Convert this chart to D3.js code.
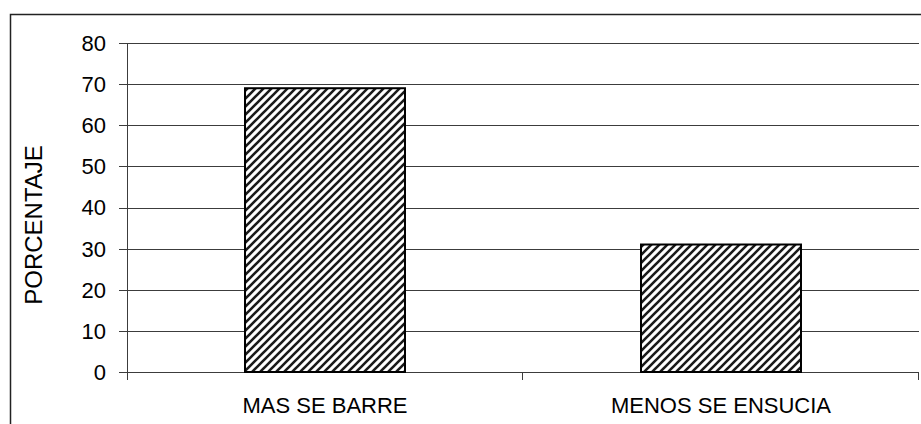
<!DOCTYPE html>
<body style="margin:0">
<svg width="921" height="424" font-family="'Liberation Sans', Arial, sans-serif"></svg>
</body>
<script src="https://d3js.org/d3.v7.min.js"></script>
<script>

var categories = ["MAS SE BARRE", "MENOS SE ENSUCIA"];
var values = [69, 31];
var yTicks = [0, 10, 20, 30, 40, 50, 60, 70, 80];
var yTitle = "PORCENTAJE";

var svg = d3.select("svg"),
    width = +svg.attr("width"),
    height = +svg.attr("height");

var margin = {left: 127, right: 2, top: 43, bottom: 52};

var x = d3.scaleBand()
    .domain(categories)
    .range([margin.left, width - margin.right]);

var y = d3.scaleLinear()
    .domain([0, 80])
    .range([height - margin.bottom, margin.top]);

// hatch fill
var defs = svg.append("defs");
var pat = defs.append("pattern")
    .attr("id", "hatch")
    .attr("patternUnits", "userSpaceOnUse")
    .attr("width", 8)
    .attr("height", 8);
pat.append("rect").attr("width", 8).attr("height", 8).attr("fill", "#fff");
pat.append("path")
    .attr("d", "M-2,2 L2,-2 M0,8 L8,0 M6,10 L10,6")
    .attr("stroke", "#1a1a1a")
    .attr("stroke-width", 2.6);

// outer frame
svg.append("rect")
    .attr("x", 10.5).attr("y", 14.5)
    .attr("width", width + 20).attr("height", height + 20)
    .attr("fill", "none")
    .attr("stroke", "#222")
    .attr("stroke-width", 1.5);

// grid lines
svg.append("g")
    .selectAll("line")
    .data(yTicks)
    .join("line")
    .attr("x1", margin.left - 8)
    .attr("x2", width - margin.right)
    .attr("y1", function(d) { return Math.round(y(d)) + 0.5; })
    .attr("y2", function(d) { return Math.round(y(d)) + 0.5; })
    .attr("stroke", "#3c3c3c");

// y axis line
svg.append("line")
    .attr("x1", margin.left + 0.5).attr("x2", margin.left + 0.5)
    .attr("y1", y(80)).attr("y2", y(0) + 8)
    .attr("stroke", "#3c3c3c");

// category tick marks
var bounds = categories.map(function(c) { return x(c) + x.bandwidth(); });
svg.append("g")
    .selectAll("line")
    .data(bounds)
    .join("line")
    .attr("x1", function(d) { return Math.round(d) - 0.5; })
    .attr("x2", function(d) { return Math.round(d) - 0.5; })
    .attr("y1", y(0))
    .attr("y2", y(0) + 8)
    .attr("stroke", "#3c3c3c");

// y tick labels
svg.append("g")
    .selectAll("text")
    .data(yTicks)
    .join("text")
    .attr("x", margin.left - 21)
    .attr("y", function(d) { return y(d); })
    .attr("dy", "0.36em")
    .attr("text-anchor", "end")
    .attr("font-size", 22)
    .text(function(d) { return d; });

// bars
var barW = x.bandwidth() * 0.404;
svg.append("g")
    .selectAll("rect")
    .data(values)
    .join("rect")
    .attr("x", function(d, i) { return x(categories[i]) + (x.bandwidth() - barW) / 2; })
    .attr("y", function(d) { return y(d); })
    .attr("width", barW)
    .attr("height", function(d) { return y(0) - y(d); })
    .attr("fill", "url(#hatch)")
    .attr("stroke", "#000")
    .attr("stroke-width", 2);

// category labels
svg.append("g")
    .selectAll("text")
    .data(categories)
    .join("text")
    .attr("x", function(d) { return x(d) + x.bandwidth() / 2; })
    .attr("y", y(0) + 41)
    .attr("text-anchor", "middle")
    .attr("font-size", 22)
    .text(function(d) { return d; });

// y title
svg.append("text")
    .attr("transform", "translate(42," + 225 + ") rotate(-90)")
    .attr("text-anchor", "middle")
    .attr("font-size", 24)
    .text(yTitle);

</script>
